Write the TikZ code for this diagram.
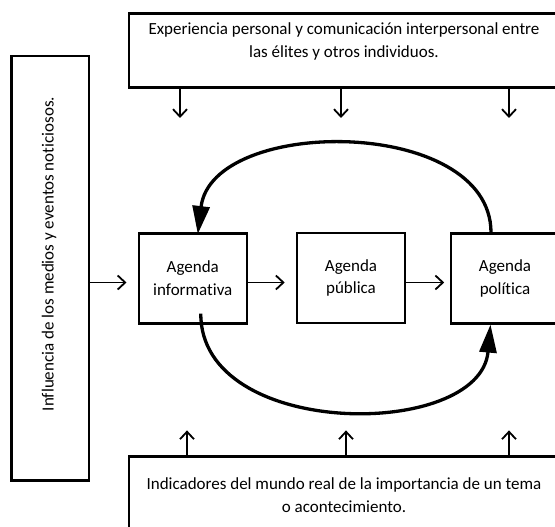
\documentclass[tikz,border=0pt]{standalone}
\usepackage{fontspec}
\setmainfont[Ligatures=NoCommon]{Carlito}
\usetikzlibrary{arrows.meta}
\begin{document}
\begin{tikzpicture}[x=1pt,y=-1pt,
  box/.style={draw,line width=2.6pt,inner sep=0pt},
  agenda/.style={box,minimum width=108pt,minimum height=90pt,align=center,font=\fontsize{17}{22.5}\selectfont},
  txt/.style={align=center,inner sep=0pt,font=\fontsize{17}{23.5}\selectfont},
  arr/.style={line width=1.8pt,-{Straight Barb[length=7.5pt,width=14pt]}},
  big/.style={line width=3.3pt,-{Triangle[length=28pt,width=17pt]}}]
\useasboundingbox (0,0) rectangle (555,527);
\clip (0,0) rectangle (555,527);
% frame boxes
\node[box,minimum width=430pt,minimum height=74.4pt] (topbox) at (344,50.5) {};
\node[txt] (toptext) at (344,41.5) {Experiencia personal y comunicación interpersonal entre\\las élites y otros individuos.};
\node[box,minimum width=430pt,minimum height=78pt] (botbox) at (344,495.7) {};
\node[txt] (bottext) at (344,495) {Indicadores del mundo real de la importancia de un tema\\o acontecimiento.};
\node[box,minimum width=77.3pt,minimum height=424.7pt] (leftbox) at (50.3,268.3) {};
\node[txt,rotate=90] (lefttext) at (49,254) {Influencia de los medios y eventos noticiosos.};
% agenda boxes
\node[agenda] (info) at (192.8,278.3) {Agenda\\informativa};
\node[agenda] (pub) at (351,278) {Agenda\\pública};
\node[agenda] (pol) at (505,278.3) {Agenda\\política};
% straight arrows
\coordinate (arowy) at (0,282.5);
\draw[arr,shorten >=11pt] (leftbox.east |- arowy) -- (info.west |- arowy);
\draw[arr,shorten >=11pt] (info.east |- arowy) -- (pub.west |- arowy);
\draw[arr,shorten >=5.5pt] (pub.east |- arowy) -- (pol.west |- arowy);
% top arrows down
\foreach \xx in {180,341,509} \draw[arr] (topbox.south -| \xx,0) -- ++(0,29);
% bottom arrows up
\foreach \xx in {187,346,509} \draw[arr] (botbox.north -| \xx,0) -- ++(0,-25);
% feedback curves
\draw[big] ([xshift=-14pt]pol.north) .. controls (490,116) and (212,116) .. ([xshift=5pt,yshift=-2pt]info.north);
\draw[big] ([xshift=8pt,yshift=11pt]info.south) .. controls (200,440) and (480,440) .. ([xshift=-14.5pt]pol.south);
\end{tikzpicture}
\end{document}
